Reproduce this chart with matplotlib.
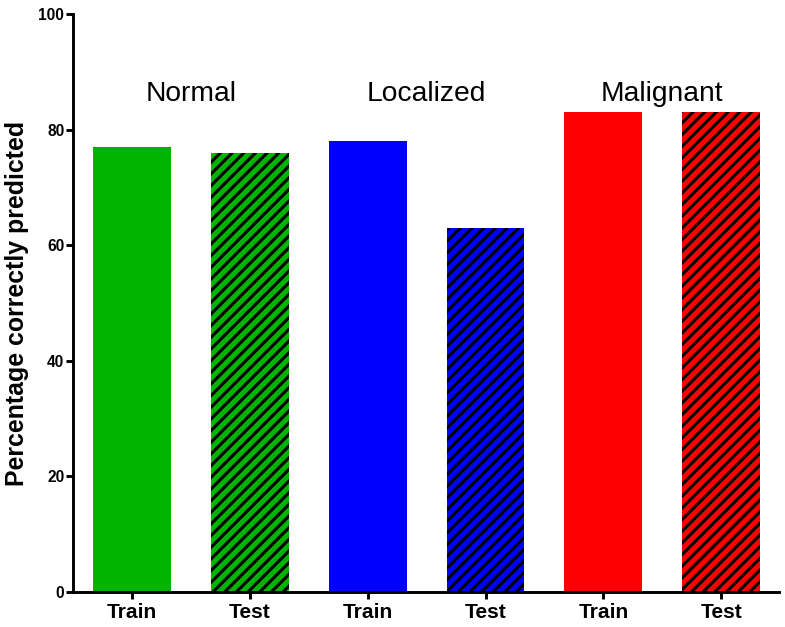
import matplotlib.pyplot as plt

plt.rcParams['font.family'] = ['Liberation Sans', 'DejaVu Sans']
plt.rcParams['hatch.linewidth'] = 1.6

# data
tick_labels = ['Train', 'Test', 'Train', 'Test', 'Train', 'Test']
values = [77, 76, 78, 63, 83, 83]
groups = ['Normal', 'Localized', 'Malignant']
colors = ['#00b400', '#00b400', '#0000ff', '#0000ff', '#ff0000', '#ff0000']
hatches = ['', '////', '', '////', '', '////']

DPI = 140
fig = plt.figure(figsize=(785 / DPI, 627 / DPI), dpi=DPI)
ax = fig.add_axes([73 / 785, 1 - 592 / 627, (779 - 73) / 785, (592 - 14) / 627])

x = list(range(len(values)))
for xi, v, c, h in zip(x, values, colors, hatches):
    ax.bar(xi, v, width=0.66, color=c, edgecolor='black' if h else c,
           linewidth=0, hatch=h)

# group labels above each pair
for i, g in enumerate(groups):
    ax.text(2 * i + 0.5, 86.2, g, ha='center', va='center', fontsize=14.5)

ax.set_xlim(-0.5, 5.49)
ax.set_ylim(0, 100)
ax.set_xticks(x)
ax.set_xticklabels(tick_labels, fontsize=10.8, fontweight='bold')
ax.set_yticks([0, 20, 40, 60, 80, 100])
ax.tick_params(axis='y', labelsize=8, width=1.5, length=3.5, pad=1)
ax.tick_params(axis='x', width=1.5, length=3.5, pad=2)
for lab in ax.get_yticklabels():
    lab.set_fontweight('bold')
ax.set_ylabel('Percentage correctly predicted', fontsize=12.8, fontweight='bold', labelpad=5)

for s in ['top', 'right']:
    ax.spines[s].set_visible(False)
for s in ['left', 'bottom']:
    ax.spines[s].set_linewidth(1.5)

fig.savefig('out.png', dpi=DPI)
